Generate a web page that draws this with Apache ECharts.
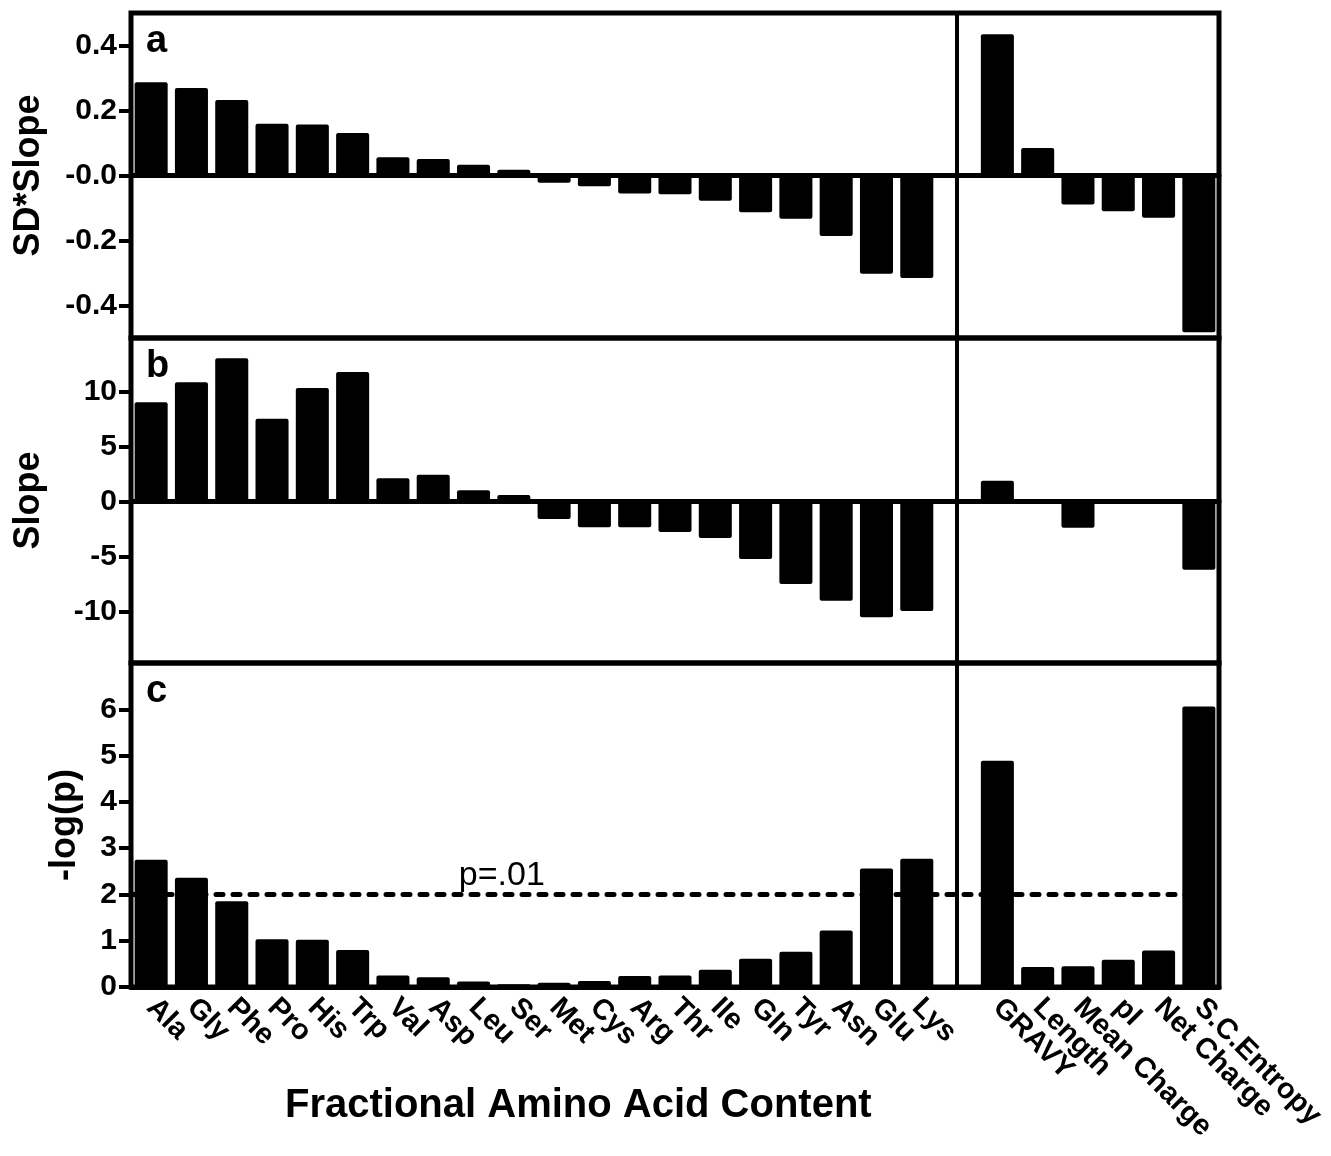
<!DOCTYPE html>
<html>
<head>
<meta charset="utf-8">
<title>Fractional Amino Acid Content</title>
<script src="https://cdn.jsdelivr.net/npm/echarts@6/dist/echarts.min.js"></script>
<style>
  html, body { margin: 0; padding: 0; background: #fff; }
  #chart { width: 1331px; height: 1156px; }
</style>
</head>
<body>
<div id="chart"></div>
<script>
// categories
const aminoAcids = ['Ala', 'Gly', 'Phe', 'Pro', 'His', 'Trp', 'Val', 'Asp', 'Leu', 'Ser',
    'Met', 'Cys', 'Arg', 'Thr', 'Ile', 'Gln', 'Tyr', 'Asn', 'Glu', 'Lys'];
const properties = ['GRAVY', 'Length', 'Mean Charge', 'pI', 'Net Charge', 'S.C.Entropy'];

// panel a: SD*Slope
const sdSlopeAmino = [0.287, 0.269, 0.232, 0.159, 0.157, 0.131, 0.056, 0.051, 0.033, 0.018,
    -0.022, -0.033, -0.055, -0.058, -0.078, -0.113, -0.133, -0.186, -0.302, -0.315];
const sdSlopeProps = [0.435, 0.085, -0.089, -0.110, -0.130, -0.482];

// panel b: Slope
const slopeAmino = [9.04, 10.85, 13.04, 7.55, 10.34, 11.79, 2.13, 2.45, 1.04, 0.61,
    -1.57, -2.33, -2.33, -2.75, -3.30, -5.21, -7.48, -9.00, -10.50, -9.94];
const slopeProps = [1.91, 0.05, -2.36, -0.2, -0.15, -6.18];

// panel c: -log(p)
const logPAmino = [2.75, 2.36, 1.85, 1.03, 1.02, 0.80, 0.25, 0.21, 0.12, 0.06,
    0.09, 0.13, 0.24, 0.25, 0.37, 0.61, 0.76, 1.22, 2.56, 2.77];
const logPProps = [4.89, 0.43, 0.45, 0.59, 0.79, 6.06];

// ticks
const sdSlopeTicks = [-0.4, -0.2, 0, 0.2, 0.4];
const sdSlopeTickLabels = ['-0.4', '-0.2', '-0.0', '0.2', '0.4'];
const slopeTicks = [-10, -5, 0, 5, 10];
const logPTicks = [0, 1, 2, 3, 4, 5, 6];

const threshold = 2;
const thresholdLabel = 'p=.01';

const font = '"Liberation Sans", Arial, sans-serif';
const categories = aminoAcids.concat([' '], properties);
const join = (a, b) => a.concat([null], b);

const panels = [
    {
        letter: 'a', name: 'SD*Slope', top: 13, height: 325, min: -0.5, max: 0.5, nameGap: 84,
        ticks: sdSlopeTicks,
        fmt: v => sdSlopeTickLabels[sdSlopeTicks.findIndex(t => Math.abs(t - v) < 1e-9)],
        data: join(sdSlopeAmino, sdSlopeProps)
    },
    {
        letter: 'b', name: 'Slope', top: 338, height: 325, min: -14.66, max: 14.88, nameGap: 84,
        ticks: slopeTicks, fmt: v => String(v),
        data: join(slopeAmino, slopeProps)
    },
    {
        letter: 'c', name: '-log(p)', top: 663, height: 324, min: 0, max: 7, nameGap: 48,
        ticks: logPTicks, fmt: v => String(v),
        data: join(logPAmino, logPProps)
    }
];

const chart = echarts.init(document.getElementById('chart'));

chart.setOption({
    backgroundColor: '#fff',
    animation: false,
    title: panels.map(p => ({
        text: p.letter,
        left: 141,
        top: p.top + 5,
        textStyle: {fontSize: 38, fontWeight: 'bold', color: '#000', fontFamily: font}
    })).concat([{
        text: 'Fractional Amino Acid Content',
        left: 280,
        top: 1081,
        textStyle: {fontSize: 40, fontWeight: 'bold', color: '#000', fontFamily: font}
    }]),
    grid: panels.map(p => ({
        left: 131,
        width: 1088,
        top: p.top,
        height: p.height,
        show: true,
        borderColor: '#000',
        borderWidth: 5
    })),
    xAxis: panels.map((p, i) => ({
        type: 'category',
        gridIndex: i,
        data: categories,
        axisTick: {show: false},
        axisLine: {onZero: true, lineStyle: {color: '#000', width: 5}},
        axisLabel: i === 2 ? {
            interval: 0,
            rotate: -45,
            margin: 16,
            fontSize: 29,
            fontWeight: 'bold',
            color: '#000',
            fontFamily: font
        } : {show: false}
    })),
    yAxis: panels.map((p, i) => ({
        type: 'value',
        gridIndex: i,
        min: p.min,
        max: p.max,
        splitLine: {show: false},
        axisLine: {show: false},
        axisTick: {
            show: true,
            length: 12,
            customValues: p.ticks,
            lineStyle: {color: '#000', width: 4}
        },
        axisLabel: {
            customValues: p.ticks,
            formatter: p.fmt,
            margin: 14,
            fontSize: 30,
            fontWeight: 'bold',
            color: '#000',
            fontFamily: font
        },
        name: p.name,
        nameLocation: 'middle',
        nameRotate: 90,
        nameGap: p.nameGap,
        nameTextStyle: {fontSize: 36, fontWeight: 'bold', color: '#000', fontFamily: font}
    })),
    series: panels.map((p, i) => {
        const lines = [{xAxis: aminoAcids.length}];
        if (i === 2) {
            lines.push({
                yAxis: threshold,
                lineStyle: {type: [7, 10], width: 5, cap: 'round', color: '#000'}
            });
        }
        const s = {
            type: 'bar',
            xAxisIndex: i,
            yAxisIndex: i,
            data: p.data,
            barCategoryGap: '18%',
            itemStyle: {color: '#000', borderRadius: 2},
            markLine: {
                silent: true,
                symbol: ['none', 'none'],
                label: {show: false},
                lineStyle: {color: '#000', width: 4, type: 'solid'},
                data: lines
            }
        };
        if (i === 2) {
            s.markPoint = {
                silent: true,
                symbol: 'circle',
                symbolSize: 1,
                itemStyle: {color: 'rgba(0,0,0,0)'},
                data: [{
                    coord: ['Ser', threshold],
                    label: {
                        show: true,
                        formatter: thresholdLabel,
                        position: 'inside',
                        offset: [-12, -19],
                        fontSize: 34,
                        color: '#000',
                        fontFamily: font
                    }
                }]
            };
        }
        return s;
    })
});
</script>
</body>
</html>
